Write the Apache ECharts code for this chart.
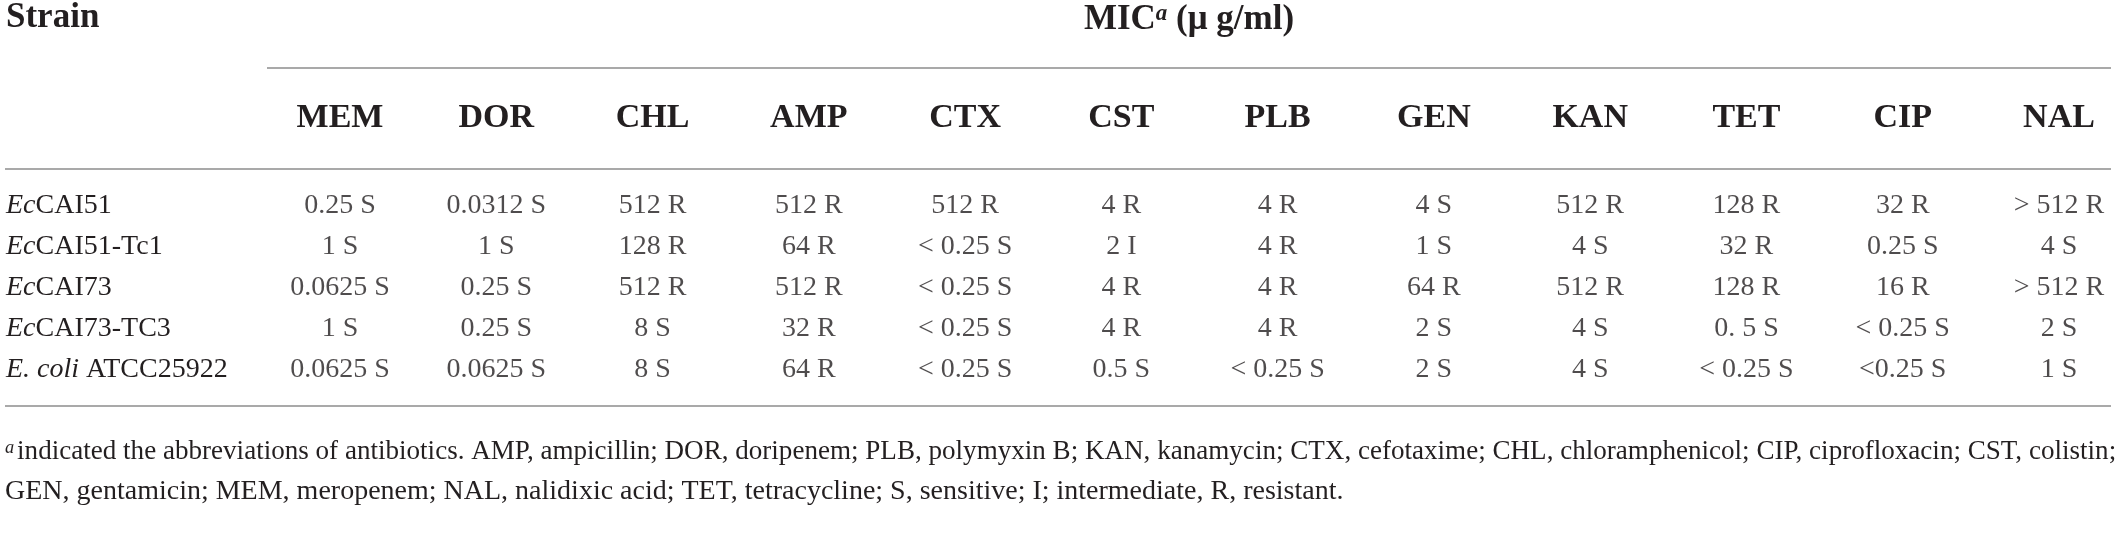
<!DOCTYPE html>
<html>
<head>
<meta charset="utf-8">
<script src="https://cdn.jsdelivr.net/npm/echarts@6/dist/echarts.min.js"></script>
<style>
  html, body { margin: 0; padding: 0; background: #ffffff; }
  #chart { width: 2117px; height: 545px; }
</style>
</head>
<body>
<div id="chart"></div>
<script>
// ---- data ----
const antibiotics = ['MEM', 'DOR', 'CHL', 'AMP', 'CTX', 'CST', 'PLB', 'GEN', 'KAN', 'TET', 'CIP', 'NAL'];
const strains = ['EcCAI51', 'EcCAI51-Tc1', 'EcCAI73', 'EcCAI73-TC3', 'E. coli ATCC25922'];
const strainItalic = ['Ec', 'Ec', 'Ec', 'Ec', 'E. coli'];
const strainRoman = ['CAI51', 'CAI51-Tc1', 'CAI73', 'CAI73-TC3', ' ATCC25922'];
const micEcCAI51 = ['0.25 S', '0.0312 S', '512 R', '512 R', '512 R', '4 R', '4 R', '4 S', '512 R', '128 R', '32 R', '> 512 R'];
const micEcCAI51Tc1 = ['1 S', '1 S', '128 R', '64 R', '< 0.25 S', '2 I', '4 R', '1 S', '4 S', '32 R', '0.25 S', '4 S'];
const micEcCAI73 = ['0.0625 S', '0.25 S', '512 R', '512 R', '< 0.25 S', '4 R', '4 R', '64 R', '512 R', '128 R', '16 R', '> 512 R'];
const micEcCAI73TC3 = ['1 S', '0.25 S', '8 S', '32 R', '< 0.25 S', '4 R', '4 R', '2 S', '4 S', '0. 5 S', '< 0.25 S', '2 S'];
const micATCC25922 = ['0.0625 S', '0.0625 S', '8 S', '64 R', '< 0.25 S', '0.5 S', '< 0.25 S', '2 S', '4 S', '< 0.25 S', '<0.25 S', '1 S'];
const headerStrain = 'Strain';
const headerMIC = 'MIC{sup|a} (μ g/ml)';
const footnote1 = '{sup|a}indicated the abbreviations of antibiotics. AMP, ampicillin; DOR, doripenem; PLB, polymyxin B; KAN, kanamycin; CTX, cefotaxime; CHL, chloramphenicol; CIP, ciprofloxacin; CST, colistin;';
const footnote2 = 'GEN, gentamicin; MEM, meropenem; NAL, nalidixic acid; TET, tetracycline; S, sensitive; I; intermediate, R, resistant.';

const micRows = [micEcCAI51, micEcCAI51Tc1, micEcCAI73, micEcCAI73TC3, micATCC25922];

// ---- build ----
const FONT = 'Liberation Serif';
const INK = '#231f20';
const RULE = '#a9a9a9';

const cells = [];
micRows.forEach(function (row, i) {
  row.forEach(function (txt, j) {
    cells.push({ value: [antibiotics[j], strains[i]], mic: txt });
  });
});

const chart = echarts.init(document.getElementById('chart'), null, { renderer: 'canvas' });
chart.setOption({
  animation: false,
  backgroundColor: '#ffffff',
  grid: { left: 340, right: 58, top: 206, bottom: 175 },
  xAxis: {
    type: 'category',
    data: antibiotics,
    position: 'top',
    boundaryGap: false,
    axisLine: { show: false },
    axisTick: { show: false },
    splitLine: { show: false },
    axisLabel: {
      interval: 0,
      margin: 88,
      verticalAlign: 'middle',
      fontFamily: FONT,
      fontWeight: 'bold',
      fontSize: 34,
      color: INK
    }
  },
  yAxis: {
    type: 'category',
    data: strains,
    inverse: true,
    boundaryGap: false,
    axisLine: { show: false },
    axisTick: { show: false },
    splitLine: { show: false },
    axisLabel: {
      interval: 0,
      align: 'left',
      margin: 334,
      fontFamily: FONT,
      fontSize: 28,
      color: INK,
      formatter: function (v, idx) {
        return '{i|' + strainItalic[idx] + '}' + strainRoman[idx];
      },
      rich: {
        i: { fontFamily: FONT, fontStyle: 'italic', fontSize: 28, color: INK }
      }
    }
  },
  series: [{
    type: 'scatter',
    data: cells,
    symbol: 'circle',
    symbolSize: 1,
    itemStyle: { color: 'rgba(0,0,0,0)' },
    label: {
      show: true,
      position: 'inside',
      formatter: function (p) { return p.data.mic; },
      fontFamily: FONT,
      fontSize: 28,
      color: INK
    },
    silent: true
  }],
  graphic: [
    { type: 'text', x: 6, y: 18, style: { text: headerStrain, font: 'bold 35px "' + FONT + '"', fill: INK, verticalAlign: 'middle', align: 'left' } },
    { type: 'text', x: 1189, y: 20, style: {
        text: headerMIC, fontFamily: FONT, fontWeight: 'bold', fontSize: 35, fill: INK, verticalAlign: 'middle', align: 'center',
        rich: { sup: { fontFamily: FONT, fontWeight: 'bold', fontStyle: 'italic', fontSize: 23, fill: INK, verticalAlign: 'top', lineHeight: 34 } }
    } },
    { type: 'line', shape: { x1: 267, y1: 68, x2: 2111, y2: 68 }, style: { stroke: RULE, lineWidth: 2 } },
    { type: 'line', shape: { x1: 5, y1: 169, x2: 2111, y2: 169 }, style: { stroke: RULE, lineWidth: 2 } },
    { type: 'line', shape: { x1: 5, y1: 406, x2: 2111, y2: 406 }, style: { stroke: RULE, lineWidth: 2 } },
    { type: 'text', x: 5, y: 452, scaleX: 0.967, style: {
        text: footnote1, fontFamily: FONT, fontSize: 28, fill: INK, verticalAlign: 'middle', align: 'left',
        rich: { sup: { fontFamily: FONT, fontStyle: 'italic', fontSize: 19, fill: INK, verticalAlign: 'top', lineHeight: 28, padding: [0, 3, 0, 0] } }
    } },
    { type: 'text', x: 5, y: 492, style: { text: footnote2, fontFamily: FONT, fontSize: 28, fill: INK, verticalAlign: 'middle', align: 'left' } }
  ]
});
</script>
</body>
</html>
